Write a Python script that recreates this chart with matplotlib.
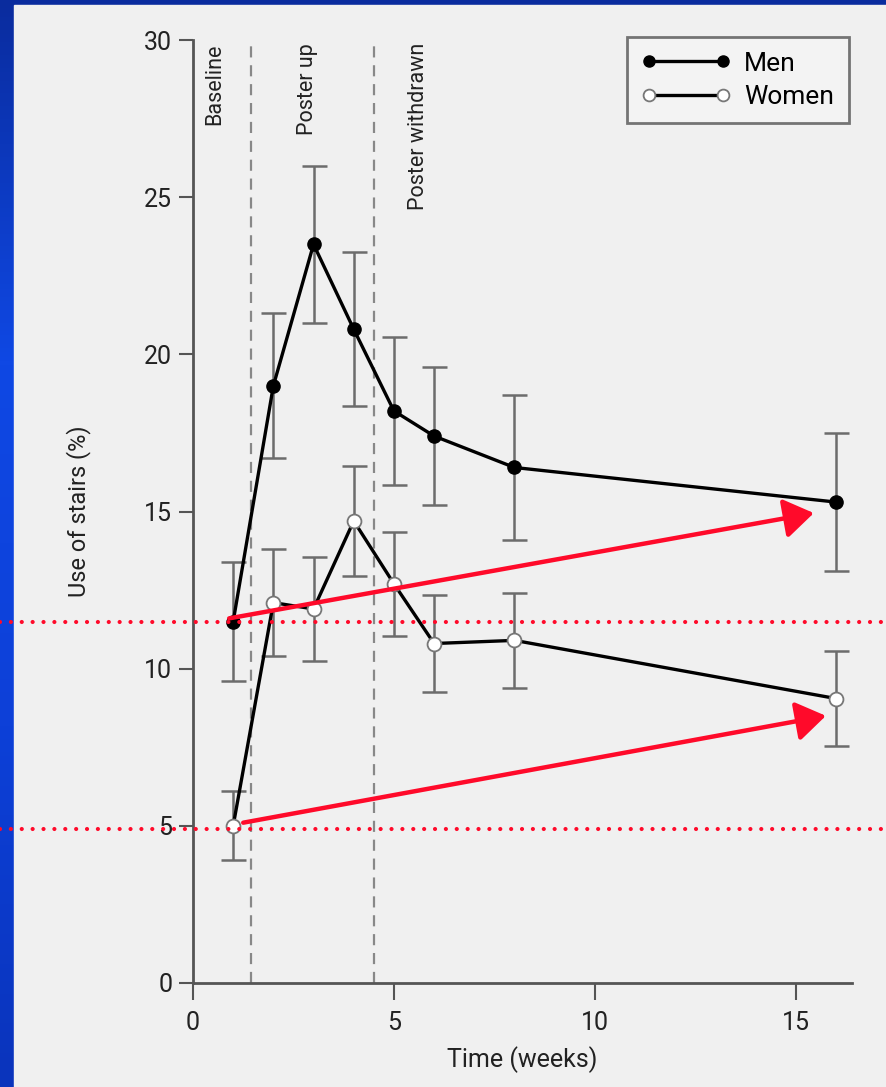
import numpy as np
import matplotlib
matplotlib.use('Agg')
import matplotlib.pyplot as plt
from matplotlib.patches import Rectangle
from matplotlib.lines import Line2D
import matplotlib.transforms as mtransforms
from matplotlib import font_manager

names = {f.name for f in font_manager.fontManager.ttflist}
fam = [n for n in ['Liberation Sans Narrow', 'DejaVu Sans Condensed', 'Roboto']
       if n in names] + ['DejaVu Sans']
plt.rcParams['font.family'] = fam

# data
weeks = [1, 2, 3, 4, 5, 6, 8, 16]
men = [11.5, 19.0, 23.5, 20.8, 18.2, 17.4, 16.4, 15.3]
men_err = [1.9, 2.3, 2.5, 2.45, 2.35, 2.2, 2.3, 2.2]
women = [5.0, 12.1, 11.9, 14.7, 12.7, 10.8, 10.9, 9.05]
women_err = [1.1, 1.7, 1.65, 1.75, 1.65, 1.55, 1.5, 1.5]

phase_lines = [1.45, 4.5]
phase_labels = ['Baseline', 'Poster up', 'Poster withdrawn']
phase_label_x = [0.55, 2.85, 5.6]

# red overlay: reference levels and arrows
ref_levels = [11.5, 4.9]
arrow_starts = [(0.9, 11.6), (1.25, 5.1)]
arrow_ends = [(15.45, 14.95), (15.75, 8.5)]

red = '#ff0a2a'
axis_col = '#555555'
txt_col = '#222222'

fig = plt.figure(figsize=(8.87, 10.87), dpi=100)

# blue slide frame + scanned page
bg = fig.add_axes([0, 0, 1, 1])
grad = np.linspace(0, 1, 256).reshape(-1, 1)
cmap = matplotlib.colors.LinearSegmentedColormap.from_list(
    'slide', ['#0a2c9e', '#0f48e4', '#0d40d8', '#0a34bc'])
bg.imshow(grad, aspect='auto', cmap=cmap, extent=[0, 1, 0, 1])
bg.add_patch(Rectangle((14 / 887, 0), 1, 1 - 5 / 1087, color='#f0f0f0',
                       transform=bg.transAxes))
bg.set_xlim(0, 1)
bg.set_ylim(0, 1)
bg.axis('off')

ax = fig.add_axes([193 / 887, 104 / 1087, 659 / 887, 943 / 1087])
ax.set_facecolor('none')
ax.set_xlim(0, 16.4)
ax.set_ylim(0, 30)

for x in phase_lines:
    ax.axvline(x, color='#888888', lw=1.6, ls=(0, (5, 3.5)), zorder=1)
for x, lab in zip(phase_label_x, phase_labels):
    ax.text(x, 29.9, lab, rotation=90, ha='center', va='top', fontsize=15.5,
            color=txt_col)

ax.errorbar(weeks, men, yerr=men_err, fmt='none', ecolor='#6c6c6c',
            elinewidth=1.8, capsize=9, capthick=1.8, zorder=2)
ax.errorbar(weeks, women, yerr=women_err, fmt='none', ecolor='#6c6c6c',
            elinewidth=1.8, capsize=9, capthick=1.8, zorder=2)
ax.plot(weeks, men, color='black', lw=2.4, marker='o', ms=9.5,
        mfc='black', mec='black', zorder=3)
ax.plot(weeks, women, color='black', lw=2.4, marker='o', ms=10,
        mfc='white', mec='#777777', mew=1.3, zorder=3)

ax.spines['top'].set_visible(False)
ax.spines['right'].set_visible(False)
for s in ['left', 'bottom']:
    ax.spines[s].set_color(axis_col)
    ax.spines[s].set_linewidth(2)
ax.set_xticks([0, 5, 10, 15])
ax.set_yticks([0, 5, 10, 15, 20, 25, 30])
ax.tick_params(axis='y', direction='out', length=10, width=1.5,
               color=axis_col, labelsize=18, labelcolor=txt_col, pad=5)
ax.tick_params(axis='x', direction='out', length=12, width=1.5,
               color=axis_col, labelsize=18, labelcolor=txt_col, pad=8)
ax.set_xlabel('Time (weeks)', fontsize=18, color=txt_col, labelpad=8)
ax.set_ylabel('Use of stairs (%)', fontsize=17, color=txt_col, labelpad=38)

handles = [
    Line2D([0, 1], [0, 0], color='black', lw=2.4, marker='o', ms=8,
           mfc='black', mec='black'),
    Line2D([0, 1], [0, 0], color='black', lw=2.4, marker='o', ms=8.5,
           mfc='white', mec='#777777', mew=1.3),
]
leg = ax.legend(handles, ['Men', 'Women'], loc='upper right',
                bbox_to_anchor=(0.995, 1.003), borderaxespad=0, fontsize=19,
                frameon=True, fancybox=False, handlelength=3.4,
                handletextpad=0.5, borderpad=0.55, labelspacing=0.35,
                numpoints=2)
leg.get_frame().set_edgecolor('#555555')
leg.get_frame().set_linewidth(2)
leg.get_frame().set_facecolor('#f4f4f4')

# red overlay
tr = mtransforms.blended_transform_factory(fig.transFigure, ax.transData)
for lvl in ref_levels:
    ax.plot([0, 1], [lvl, lvl], transform=tr, color=red, lw=3,
            ls=(0, (0.01, 2.6)), dash_capstyle='round', clip_on=False,
            zorder=6)
for s, e in zip(arrow_starts, arrow_ends):
    ax.annotate('', xy=e, xytext=s,
                arrowprops=dict(arrowstyle='-|>,head_length=0.9,head_width=0.6',
                                color=red, lw=3.2, mutation_scale=20,
                                shrinkA=0, shrinkB=0),
                zorder=7)

fig.savefig('out.png', dpi=100)
